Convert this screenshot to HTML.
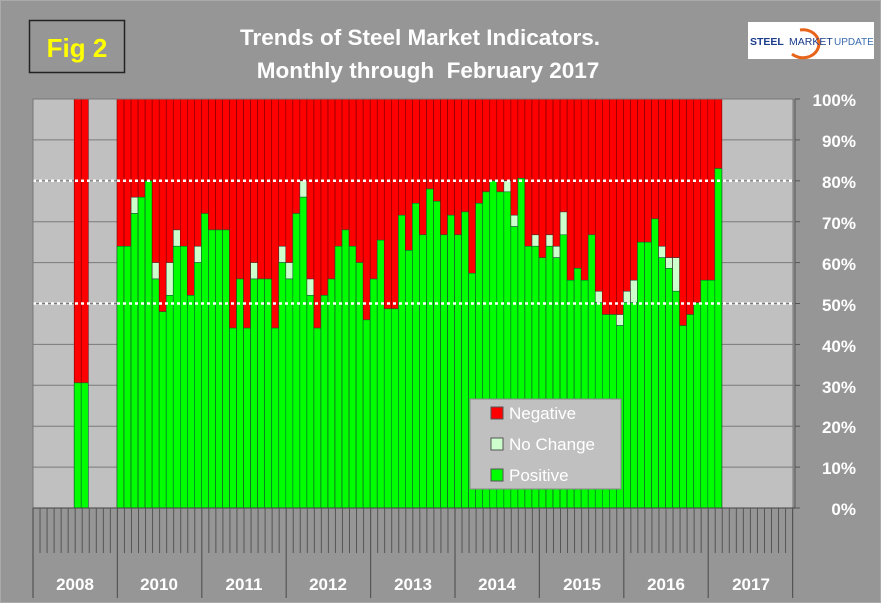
<!DOCTYPE html>
<html><head><meta charset="utf-8"><style>
html,body{margin:0;padding:0;background:#969696;}
svg{display:block;font-family:"Liberation Sans",Arial,sans-serif;}
</style></head><body>
<svg id="s" width="881" height="603" viewBox="0 0 881 603" xmlns="http://www.w3.org/2000/svg">
<rect x="0" y="0" width="881" height="603" fill="#969696"/>
<rect x="0.5" y="0.5" width="880" height="602" fill="none" stroke="#aaa"/>
<rect x="29.5" y="20.5" width="95" height="52" fill="none" stroke="#222" stroke-width="1.5"/>
<text x="77" y="57" text-anchor="middle" font-size="26" font-weight="bold" fill="#ffff00">Fig 2</text>
<text x="420" y="45" text-anchor="middle" font-size="22.5" font-weight="bold" fill="#fff">Trends of Steel Market Indicators.</text>
<text x="428" y="78" text-anchor="middle" font-size="22.5" font-weight="bold" fill="#fff" xml:space="preserve">Monthly through  February 2017</text>
<rect x="748" y="22" width="126" height="37" fill="#fff"/>
<path d="M800 30 A16 14 0 1 1 792 54" fill="none" stroke="#e8641a" stroke-width="3"/>
<text x="750" y="45" font-size="10.5" font-weight="bold" fill="#1a3c8c">STEEL</text>
<text x="789" y="45" font-size="10.5" fill="#1a3c8c">MARKET</text>
<text x="834" y="45" font-size="10" fill="#3a6cb0">UPDATE</text>
<g id="plot"></g>
<g font-size="17" font-weight="bold" fill="#fff" text-anchor="end">
<text x="856" y="106">100%</text><text x="856" y="147">90%</text><text x="856" y="188">80%</text>
<text x="856" y="229">70%</text><text x="856" y="270">60%</text><text x="856" y="311">50%</text>
<text x="856" y="352">40%</text><text x="856" y="393">30%</text><text x="856" y="433">20%</text>
<text x="856" y="474">10%</text><text x="856" y="515">0%</text>
</g>
<g font-size="17" font-weight="bold" fill="#fff" text-anchor="middle">
<text x="75" y="590">2008</text><text x="159" y="590">2010</text><text x="244" y="590">2011</text>
<text x="328" y="590">2012</text><text x="413" y="590">2013</text><text x="497" y="590">2014</text>
<text x="582" y="590">2015</text><text x="666" y="590">2016</text><text x="751" y="590">2017</text>
</g>
<rect x="470" y="399" width="151" height="90" fill="#c0c0c0" stroke="#888"/>
<rect x="491" y="407" width="12" height="12" fill="#ff0000" stroke="#555"/>
<rect x="491" y="438" width="12" height="12" fill="#ccffcc" stroke="#555"/>
<rect x="491" y="469" width="12" height="12" fill="#00ff00" stroke="#555"/>
<g font-size="17" fill="#fff"><text x="509" y="419">Negative</text><text x="509" y="450">No Change</text><text x="509" y="481">Positive</text></g>
</svg>
<script>
var g=[64,64,72,76,80,56,48,52,64,64,52,60,72,68,68,68,44,56,44,56,56,56,44,60,56,72,76,52,44,52,56,64,68,64,60,46,56,65.5,48.7,48.7,71.6,63,74.5,66.8,78,75,66.8,71.6,66.8,72.4,57.4,74.5,77.3,80,77.3,77.3,68.8,80.6,64,64,61.2,64,61.2,66.8,55.7,58.6,55.7,66.8,50.2,47.3,47.3,44.6,50.2,50.2,65,65,70.7,61.2,58.6,53,44.6,47.3,50.2,55.7,55.7,83];
var nc={2:76,5:60,7:60,8:68,11:64,19:60,23:64,24:60,26:80,27:56,55:80,56:71.6,59:66.8,61:66.8,62:64,63:72.4,68:53,71:47.3,72:53,73:55.7,77:64,78:61.2,79:61.2};
var T=99,B=508,H=B-T,L=33,W=84.4/12;
function Y(v){return B-H*v/100;}
var s='';
s+='<rect x="'+L+'" y="'+T+'" width="'+(793-L)+'" height="'+H+'" fill="#c0c0c0"/>';
for(var k=1;k<10;k++){s+='<line x1="'+L+'" x2="793" y1="'+Y(k*10)+'" y2="'+Y(k*10)+'" stroke="#7a7a7a" stroke-width="1"/>';}
function bar(x,gv,nv){
 s+='<rect x="'+x+'" y="'+T+'" width="'+W+'" height="'+H+'" fill="#ff0000" stroke="#700" stroke-width="0.6"/>';
 if(nv) s+='<rect x="'+x+'" y="'+Y(nv)+'" width="'+W+'" height="'+(Y(gv)-Y(nv))+'" fill="#ccffcc" stroke="#333" stroke-width="0.6"/>';
 s+='<rect x="'+x+'" y="'+Y(gv)+'" width="'+W+'" height="'+(B-Y(gv))+'" fill="#00ff00" stroke="#063" stroke-width="0.6"/>';
}
bar(L+6*W-1,30.6,0);bar(L+7*W-1,30.6,0);
for(var i=0;i<g.length;i++)bar(117+i*W,g[i],nc[i]);
s+='<line x1="'+L+'" x2="793" y1="'+Y(80)+'" y2="'+Y(80)+'" stroke="#fff" stroke-width="2.5" stroke-dasharray="3,3"/>';
s+='<line x1="'+L+'" x2="793" y1="'+Y(50)+'" y2="'+Y(50)+'" stroke="#fff" stroke-width="2.5" stroke-dasharray="3,3"/>';
s+='<rect x="'+L+'" y="'+T+'" width="'+(793-L)+'" height="'+H+'" fill="none" stroke="#777"/>';
s+='<line x1="795" x2="795" y1="'+T+'" y2="'+B+'" stroke="#555"/>';
for(var k=0;k<=10;k++){s+='<line x1="795" x2="800" y1="'+Y(k*10)+'" y2="'+Y(k*10)+'" stroke="#555"/>';}
s+='<line x1="'+L+'" x2="795" y1="'+B+'" y2="'+B+'" stroke="#444"/>';
for(var j=0;j<=108;j++){var x=L+j*W;var maj=(j%12==0);
 s+='<line x1="'+x+'" x2="'+x+'" y1="'+B+'" y2="'+(maj?598:553)+'" stroke="#555" stroke-width="'+(maj?1.2:1)+'"/>';}
document.getElementById('plot').innerHTML=s;
</script>
</body></html>
